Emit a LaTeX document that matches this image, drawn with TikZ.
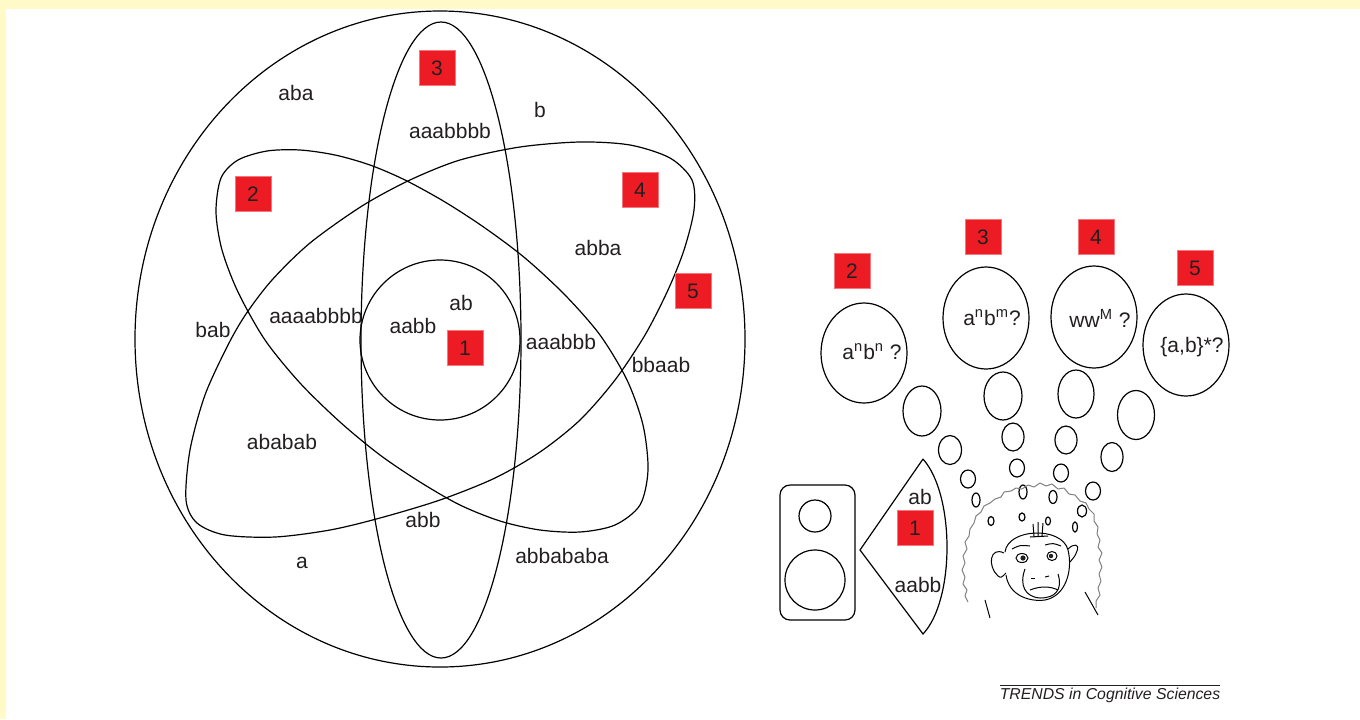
\documentclass[tikz,border=0pt]{standalone}
\usepackage{fontspec}
\setmainfont{Liberation Sans}
\definecolor{paleyellow}{RGB}{255,250,200}
\definecolor{boxred}{RGB}{237,28,36}
\definecolor{ink}{RGB}{35,31,32}

\begin{document}
\begin{tikzpicture}[x=0.5pt,y=-0.5pt,
  every node/.style={font=\fontsize{10.5}{12}\selectfont,text=ink},
  word/.style={inner sep=0pt},
  redbox/.style={fill=boxred,draw=boxred!60!white,line width=0.3pt,
    minimum width=18pt,minimum height=17.5pt,inner sep=0pt},
  thin/.style={line width=0.6pt},
  face/.style={line width=0.5pt},
  fur/.style={draw=gray,line width=0.5pt,line join=round}]

  \useasboundingbox (0,0) rectangle (1360,719);
  \fill[paleyellow] (0,0) rectangle (1360,719);
  \fill[white] (6,9) rectangle (1360,719);

  % the nested classes of strings
  \draw[thin] (440,339) ellipse [x radius=305,y radius=328];
  \draw[thin] (441,340) ellipse [x radius=80,y radius=318];
  \draw[thin] plot[smooth cycle] coordinates {(216,212) (221,178) (238,160)
    (267,151) (300,150) (335,155) (370,165) (405,180) (445,202) (485,228)
    (525,258) (565,295) (600,335) (627,380) (643,425) (648,470) (640,505)
    (615,525) (580,532) (540,530) (500,521) (460,505) (420,482) (380,455)
    (340,422) (300,383) (265,340) (238,292) (222,250)};
  \draw[thin] plot[smooth cycle] coordinates {(186,500) (190,450) (205,395)
    (228,345) (246,314) (272,280) (310,243) (362,206) (410,180) (460,160)
    (520,147) (580,142) (630,145) (670,158) (692,180) (694,210) (684,250)
    (668,290) (645,335) (615,380) (580,420) (540,452) (495,478) (440,500)
    (380,518) (330,530) (275,537) (225,535) (197,523)};
  \draw[thin] (440,340) circle [radius=80];

  \node[redbox] (b3) at (437,68) {3};
  \node[redbox] (b2) at (253,194) {2};
  \node[redbox] (b4) at (640,190) {4};
  \node[redbox] (b5) at (693,291) {5};
  \node[redbox] (b1) at (465,348) {1};

  \node[word] (aba) at (296,93) {aba};
  \node[word] (b) at (540,110) {b};
  \node[word] (aaabbbb) at (450,131) {aaabbbb};
  \node[word] (abba) at (598,248) {abba};
  \node[word] (bab) at (213,330) {bab};
  \node[word] (aaaabbbb) at (316,316) {aaaabbbb};
  \node[word] (ab) at (461,303) {ab};
  \node[word] (aabb) at (413,326) {aabb};
  \node[word] (aaabbb) at (561,342) {aaabbb};
  \node[word] (bbaab) at (661,365) {bbaab};
  \node[word] (ababab) at (282,442) {ababab};
  \node[word] (abb) at (423,520) {abb};
  \node[word] (a) at (302,563) {a};
  \node[word] (abbababa) at (562,556) {abbababa};

  % loudspeaker and its sound cone
  \draw[thin,rounded corners=5pt] (780,485) rectangle (855,620);
  \draw[thin] (815,516) circle [radius=16];
  \draw[thin] (815,580) circle [radius=30];
  \draw[thin] (923,459) -- (860,550) -- (923,634)
    .. controls (955,600) and (955,495) .. (923,459);
  \node[word] (cab) at (920,497) {ab};
  \node[redbox] (c1) at (915,528) {1};
  \node[word] (caabb) at (918,585) {aabb};

  % thought bubbles
  \draw[thin] (864,353) ellipse [x radius=43,y radius=50];
  \draw[thin] (986,318) ellipse [x radius=43,y radius=51];
  \draw[thin] (1094,317) ellipse [x radius=43,y radius=51];
  \draw[thin] (1186,345) ellipse [x radius=43,y radius=51];
  \node[word] (g2) at (872,352) {a\textsuperscript{n}b\textsuperscript{n} ?};
  \node[word] (g3) at (992,318) {a\textsuperscript{n}b\textsuperscript{m}?};
  \node[word] (g4) at (1100,318) {ww\textsuperscript{M} ?};
  \node[word] (g5) at (1192,347) {\{a,b\}*?};
  \node[redbox] (q2) at (852,271) {2};
  \node[redbox] (q3) at (983,237) {3};
  \node[redbox] (q4) at (1096,237) {4};
  \node[redbox] (q5) at (1195,268) {5};

  \foreach \x/\y/\rx/\ry in {922/411/19/25, 950/450/11.5/14.5, 968/479/7.5/9,
      976/500/4/7, 991/521/3/4.5,
      1003/396/19/24, 1013/437/11/14, 1017/468/7.5/9, 1023/492/4/7, 1022/517/3/4,
      1076/394/18/24, 1066/440/11/14, 1061/473/7.5/9, 1053/497/4/6.5, 1048/521/2.5/4,
      1136/415/18.5/24.5, 1112/457/11/14.5, 1093/491/7.5/9, 1082/511/4.5/6, 1075/527/2.5/5}
    \draw[thin] (\x,\y) ellipse [x radius=\rx,y radius=\ry];

  % the monkey
  \draw[fur] (968,602) -- (965,596) -- (967,590) -- (963,584) -- (965,577)
    -- (962,570) -- (965,563) -- (963,556) -- (967,549) -- (965,542)
    -- (969,536) -- (970,529) -- (974,523) -- (976,516) -- (981,512)
    -- (984,506) -- (990,503) -- (995,499) -- (1001,497) -- (1004,492)
    -- (1011,491) -- (1016,488) -- (1022,489) -- (1028,485) -- (1034,487)
    -- (1040,483) -- (1046,486) -- (1052,484) -- (1058,489) -- (1064,488)
    -- (1069,494) -- (1075,495) -- (1080,501) -- (1086,503) -- (1089,509)
    -- (1094,514) -- (1094,521) -- (1098,527) -- (1097,534) -- (1100,540)
    -- (1098,547) -- (1102,553) -- (1099,560) -- (1102,567) -- (1099,574)
    -- (1101,581) -- (1098,588) -- (1100,595) -- (1096,601) -- (1096,608);
  \draw[face] (1005,552) .. controls (1008,528) and (1062,526) .. (1068,550)
    .. controls (1073,570) and (1066,596) .. (1045,600)
    .. controls (1030,602) and (1009,596) .. (1006,575);
  \draw[face] (1004,553) .. controls (990,546) and (987,566) .. (998,576)
    .. controls (1001,578) .. (1006,573);
  \draw[face] (1068,549) .. controls (1074,543) and (1080,544) .. (1077,551)
    .. controls (1075,556) .. (1070,562);
  \draw[face] (1012,549) .. controls (1020,545) .. (1030,546);
  \draw[face] (1045,545) .. controls (1053,543) .. (1061,546);
  \draw[face] (1022,558) ellipse [x radius=6,y radius=4.5];
  \fill[ink] (1023,558) circle [radius=2.6];
  \draw[face] (1052,556) ellipse [x radius=5,y radius=4.5];
  \fill[ink] (1051,556) circle [radius=2.2];
  \draw[face] (1031,578) -- (1035,578);
  \draw[face] (1045,577) -- (1049,576);
  \draw[face] (1025,569) .. controls (1019,585) and (1025,597) .. (1040,598)
    .. controls (1055,598) and (1063,590) .. (1058,574);
  \draw[face] (1030,590) .. controls (1040,586) and (1050,586) .. (1058,590);
  \draw[face] (1033,524) -- (1034,536) (1038,522) -- (1038,536)
    (1043,523) -- (1042,536) (1030,537) -- (1048,536);
  \draw[face] (985,600) -- (990,618) (1085,592) -- (1098,615);

  \draw[line width=0.5pt,ink] (1000,685) -- (1220,685);
  \node[word,font=\fontsize{7.9}{9}\selectfont\itshape] (trends) at (1110,695)
    {TRENDS in Cognitive Sciences};
\end{tikzpicture}
\end{document}
